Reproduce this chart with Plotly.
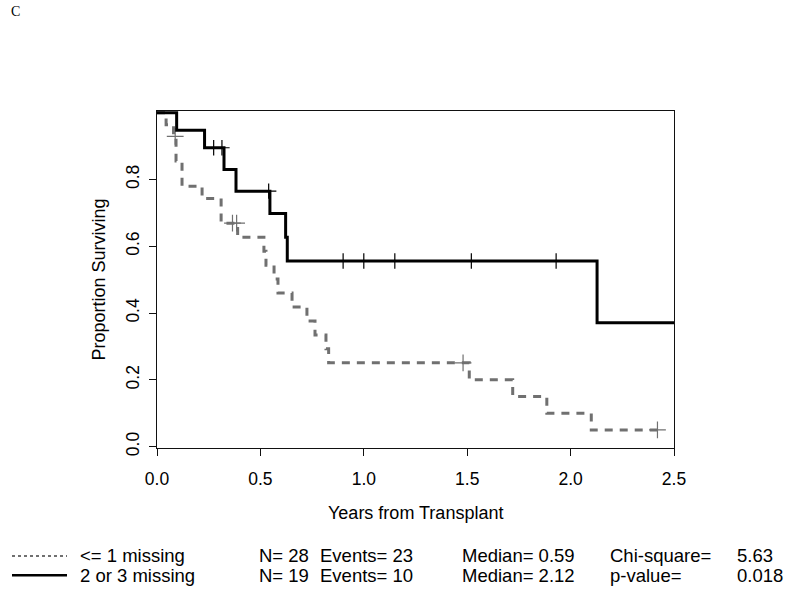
import plotly.graph_objects as go

# ---------------- data ----------------
# Group 1: "<= 1 missing" (gray dashed) -- step change times and survival levels
g1_times = [0.0, 0.044, 0.080, 0.092, 0.121, 0.218, 0.310, 0.390, 0.517, 0.527,
            0.566, 0.585, 0.653, 0.725, 0.764, 0.817, 0.830, 1.510, 1.720, 1.885, 2.100]
g1_surv = [1.000, 0.964, 0.929, 0.855, 0.780, 0.743, 0.669, 0.627, 0.585, 0.543,
           0.502, 0.460, 0.418, 0.376, 0.334, 0.293, 0.251, 0.200, 0.150, 0.100, 0.050]
g1_end = 2.42
g1_censor_t = [0.088, 0.365, 0.385, 1.48, 2.42]
g1_censor_s = [0.929, 0.669, 0.669, 0.251, 0.050]

# Group 2: "2 or 3 missing" (black solid)
g2_times = [0.0, 0.095, 0.230, 0.324, 0.382, 0.546, 0.622, 0.630, 2.128]
g2_surv = [1.000, 0.947, 0.895, 0.830, 0.765, 0.698, 0.627, 0.556, 0.371]
g2_end = 2.5
g2_censor_t = [0.274, 0.314, 0.54, 0.90, 1.00, 1.15, 1.52, 1.93]
g2_censor_s = [0.895, 0.895, 0.765, 0.556, 0.556, 0.556, 0.556, 0.556]

x_ticks = [0.0, 0.5, 1.0, 1.5, 2.0, 2.5]
x_ticklabels = ["0.0", "0.5", "1.0", "1.5", "2.0", "2.5"]
y_ticks = [0.0, 0.2, 0.4, 0.6, 0.8]
y_ticklabels = ["0.0", "0.2", "0.4", "0.6", "0.8"]

legend_labels = ["<= 1 missing", "2 or 3 missing"]
legend_n = ["N= 28", "N= 19"]
legend_events = ["Events= 23", "Events= 10"]
legend_median = ["Median= 0.59", "Median= 2.12"]
legend_stat_names = ["Chi-square=", "p-value="]
legend_stat_values = ["5.63", "0.018"]

panel_letter = "C"
x_title = "Years from Transplant"
y_title = "Proportion Surviving"

GRAY = "#707070"
FONT = "Liberation Sans, Arial, sans-serif"


def steps(times, surv, end):
    xs, ys = [], []
    for i, (t, s) in enumerate(zip(times, surv)):
        nxt = times[i + 1] if i + 1 < len(times) else end
        xs += [t, nxt]
        ys += [s, s]
    return xs, ys


fig = go.Figure()

x1, y1 = steps(g1_times, g1_surv, g1_end)
x2, y2 = steps(g2_times, g2_surv, g2_end)

fig.add_trace(go.Scatter(x=x1, y=y1, mode="lines",
                         line=dict(color=GRAY, width=3, dash="8px,7px"),
                         showlegend=False, hoverinfo="skip"))
fig.add_trace(go.Scatter(x=g1_censor_t, y=g1_censor_s, mode="markers",
                         marker=dict(symbol="cross-thin", size=12,
                                     line=dict(color=GRAY, width=1.2)),
                         showlegend=False, hoverinfo="skip"))
fig.add_trace(go.Scatter(x=x2, y=y2, mode="lines",
                         line=dict(color="black", width=3),
                         showlegend=False, hoverinfo="skip"))
fig.add_trace(go.Scatter(x=g2_censor_t, y=g2_censor_s, mode="markers",
                         marker=dict(symbol="cross-thin", size=11,
                                     line=dict(color="black", width=1.2)),
                         showlegend=False, hoverinfo="skip"))

# plot area in pixels: x 157..674, y(data 1.0)=113, y(data 0)=447
L, R, TOP0, BOT0 = 157, 674, 113, 447
W, H = 800, 589


def px(xp):
    return (xp - L) / (R - L)


def py(yp):
    return (BOT0 - yp) / (BOT0 - TOP0)


ann = []
ann.append(dict(text=panel_letter, x=px(9), y=py(5), xref="paper", yref="paper",
                xanchor="left", yanchor="top", showarrow=False,
                font=dict(family="Liberation Serif, Times New Roman, serif", size=14, color="black")))
ann.append(dict(text=x_title, x=px(415), y=py(511), xref="paper", yref="paper",
                xanchor="center", yanchor="middle", showarrow=False,
                font=dict(family=FONT, size=18, color="black")))
ann.append(dict(text=y_title, x=px(98), y=py(280), xref="paper", yref="paper",
                xanchor="center", yanchor="middle", showarrow=False, textangle=-90,
                font=dict(family=FONT, size=18, color="black")))

row_y = [554, 573]
cols = [(78, legend_labels), (257, legend_n), (318, legend_events),
        (460, legend_median), (608, legend_stat_names), (735, legend_stat_values)]
for xpos, texts in cols:
    for r, t in enumerate(texts):
        ann.append(dict(text=t, x=px(xpos), y=py(row_y[r]), xref="paper", yref="paper",
                        xanchor="left", yanchor="middle", showarrow=False,
                        font=dict(family=FONT, size=18.5, color="black")))

shapes = [
    dict(type="line", xref="paper", yref="paper", x0=px(12), x1=px(67),
         y0=py(row_y[0]), y1=py(row_y[0]), line=dict(color=GRAY, width=2, dash="dot")),
    dict(type="line", xref="paper", yref="paper", x0=px(12), x1=px(67),
         y0=py(row_y[1]), y1=py(row_y[1]), line=dict(color="black", width=2.5)),
]

fig.update_layout(
    width=W, height=H,
    margin=dict(l=L, r=W - R, t=111, b=141, pad=0),
    plot_bgcolor="white", paper_bgcolor="white",
    annotations=ann, shapes=shapes, showlegend=False,
    xaxis=dict(range=[0, 2.5], tickvals=x_ticks, ticktext=x_ticklabels,
               showline=True, mirror=True, linecolor="#111", linewidth=1,
               ticks="outside", ticklen=7, tickcolor="#111", showgrid=False,
               zeroline=False, ticklabelstandoff=8,
               tickfont=dict(family=FONT, size=17.5, color="black")),
    yaxis=dict(range=[-0.004, 1.005], tickvals=y_ticks, ticktext=y_ticklabels,
               showline=True, mirror=True, linecolor="#111", linewidth=1,
               ticks="outside", ticklen=7, tickcolor="#111", showgrid=False,
               zeroline=False, tickangle=-90, ticklabelstandoff=3,
               tickfont=dict(family=FONT, size=17.5, color="black")),
)

fig.write_html("out.html",
               config={"displayModeBar": False, "staticPlot": True},
               post_script="document.body.style.margin='0';document.body.style.overflow='hidden';")
